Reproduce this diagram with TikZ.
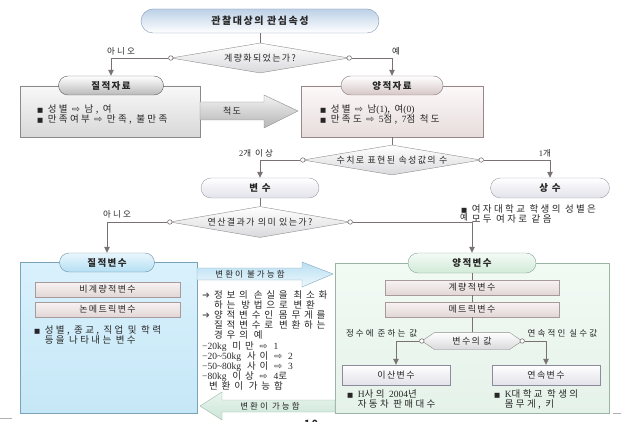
\documentclass[tikz,border=0pt]{standalone}
\usepackage{fontspec}
\setmainfont{Noto Sans CJK KR}[LetterSpace=15]
\newfontfamily\krw{Noto Sans CJK KR}[LetterSpace=25]
\newfontfamily\krm{Noto Sans CJK KR}[LetterSpace=40]
\newfontfamily\symf{DejaVu Sans}
\newfontfamily\serf{Liberation Serif}
\usetikzlibrary{shapes.geometric,arrows.meta}
\definecolor{txtc}{HTML}{262626}
\definecolor{lineg}{HTML}{7A7272}
\definecolor{topb}{HTML}{7F97B5}
\definecolor{topt}{HTML}{BCD0E6}
\definecolor{diag}{HTML}{8C8C8C}
\definecolor{diab}{HTML}{D9D9DC}
\definecolor{qdb}{HTML}{8A8A8A}
\definecolor{qdt}{HTML}{F8F8F8}
\definecolor{qdbt}{HTML}{D8D8D8}
\definecolor{qdpb}{HTML}{5E5E5E}
\definecolor{qdp}{HTML}{B9B9B9}
\definecolor{qnb}{HTML}{968888}
\definecolor{qnt}{HTML}{FCF9F9}
\definecolor{qnbt}{HTML}{E7DCDC}
\definecolor{qnpb}{HTML}{8A7878}
\definecolor{qnp}{HTML}{D6C6C6}
\definecolor{arrg}{HTML}{8C8C8C}
\definecolor{arrt}{HTML}{F3F3F3}
\definecolor{arrb}{HTML}{B4B4B4}
\definecolor{vb}{HTML}{9C9CAA}
\definecolor{vp}{HTML}{E2E2EA}
\definecolor{qvb}{HTML}{7AA3B8}
\definecolor{qvt}{HTML}{D9F1FC}
\definecolor{qvbt}{HTML}{C6E7F7}
\definecolor{qvpb}{HTML}{6C90A3}
\definecolor{qvpt}{HTML}{EAF7FD}
\definecolor{qvp}{HTML}{B4DFF3}
\definecolor{pkb}{HTML}{A89A9A}
\definecolor{pkt}{HTML}{F9F3F3}
\definecolor{pkbt}{HTML}{E2D6D6}
\definecolor{gnb}{HTML}{9BB5A4}
\definecolor{gnt}{HTML}{F2FAF4}
\definecolor{gnbt}{HTML}{E5F2E9}
\definecolor{gnpb}{HTML}{87A592}
\definecolor{gnpt}{HTML}{F4FBF6}
\definecolor{gnp}{HTML}{D1EAD8}
\definecolor{dsb}{HTML}{8B8B9C}
\definecolor{dsp}{HTML}{E2E2EA}
\definecolor{bab}{HTML}{7FA8BF}
\definecolor{bat}{HTML}{B9DFF2}
\definecolor{babt}{HTML}{EEF8FC}
\definecolor{gab}{HTML}{9BB9A8}
\definecolor{gat}{HTML}{EAF5EF}
\definecolor{gabt}{HTML}{CBE5D6}
\definecolor{pgline}{HTML}{B0B0B0}
\newcommand\sqb{{\symf\fontsize{6.5}{8}\selectfont ■}\ }
\newcommand\ind{\phantom{\sqb}}
\newcommand\wto{{\symf ⇨}}
\newcommand\mto{{\symf\color{txtc!75}➜}\hspace{4pt}}

\begin{document}
\begin{tikzpicture}[x=1pt, y=-1pt, every node/.style={text=txtc},
  ln/.style={draw=lineg, line width=0.8pt},
  arr/.style={ln, -{Triangle[length=6pt, width=5.5pt]}},
  lbl/.style={font=\krw\fontsize{8.5}{10}\selectfont, inner sep=0.5pt},
  txt/.style={font=\krw\fontsize{9.5}{10}\selectfont, align=left, inner sep=0pt, anchor=west},
  pill/.style={draw, rounded corners=9.5pt, minimum height=19, inner sep=0pt, font=\bfseries\fontsize{9.5}{11}\selectfont},
  plate/.style={draw, minimum height=15, inner sep=0pt, font=\fontsize{9}{11}\selectfont},
  dia/.style={diamond, aspect=6, draw=diag, top color=white, bottom color=diab, minimum height=30, inner sep=0pt, font=\fontsize{9}{11}\selectfont},
  knob/.style={circle, draw=lineg, fill=white, minimum size=4.5, inner sep=0pt, line width=0.6pt}]
	\useasboundingbox (0,0) rectangle (621,422);
	\node[pill, minimum width=238, minimum height=24, rounded corners=12, draw=topb, top color=topt, bottom color=white, font=\bfseries\fontsize{10}{12}\selectfont] (attr) at (260,21) {관찰대상의 관심속성};
	\node[dia, minimum width=178] (isq) at (260,58) {계량화되었는가?};
	\node[knob] (isqL) at (isq.west) {};
	\node[knob] (isqR) at (isq.east) {};
	\node[draw=qdb, top color=qdt, bottom color=qdbt, minimum width=180, minimum height=51, inner sep=0pt] (qdbox) at (110,111.5) {};
	\node[pill, minimum width=105, draw=qdpb, top color=white, bottom color=qdp] (qdpill) at (111,85.5) {질적자료};
	\node[txt] (qdtxt) at (37,114) {\sqb 성별 \wto{} 남, 여\\\sqb 만족여부 \wto{} 만족, 불만족};
	\node[draw=qnb, top color=qnt, bottom color=qnbt, minimum width=182, minimum height=51, inner sep=0pt] (qnbox) at (392,111.5) {};
	\node[pill, minimum width=102, draw=qnpb, top color=white, bottom color=qnp] (qnpill) at (392,85.5) {양적자료};
	\node[txt] (qntxt) at (320,114) {\sqb 성별 \wto{} 남{\serf(1)}, 여{\serf(0)}\\\sqb 만족도 \wto{} {\serf 5}점, {\serf 7}점 척도};
	\draw[ln] (attr) -- (isq);
	\draw[arr] (isqL) -| (qdpill);
	\draw[arr] (isqR) -| (qnpill);
	\node[lbl] (no1) at (121,51) {아니오};
	\node[lbl] (yes1) at (396,51) {예};
	\draw[draw=arrg, top color=arrt, bottom color=arrb] (200,102) -- (264,102) -- (264,95) -- (298,111) -- (264,128) -- (264,120) -- (200,120) -- cycle;
	\node[font=\fontsize{9}{11}\selectfont] (scale) at (232,111) {척도};
	\node[dia, minimum width=178] (cnt) at (392,160) {수치로 표현된 속성값의 수};
	\node[knob] (cntL) at (cnt.west) {};
	\node[knob] (cntR) at (cnt.east) {};
	\draw[ln] (qnbox) -- (cnt);
	\node[pill, minimum width=118, minimum height=20, rounded corners=10, draw=vb, top color=white, bottom color=vp] (var) at (260,188) {변 수};
	\node[pill, minimum width=119, minimum height=20, rounded corners=10, draw=vb, top color=white, bottom color=vp] (const) at (550,188) {상 수};
	\draw[arr] (cntL) -| (var);
	\draw[arr] (cntR) -| (const);
	\node[lbl] (many) at (256,153) {{\serf 2}개 이상};
	\node[lbl] (one) at (545,153) {{\serf 1}개};
	\node[txt] (ctxt) at (461,214) {\sqb 여자대학교 학생의 성별은\\\ind 모두 여자로 같음};
	\node[dia, minimum width=180, minimum height=31] (ops) at (260,222) {연산결과가 의미 있는가?};
	\node[knob] (opsL) at (ops.west) {};
	\node[knob] (opsR) at (ops.east) {};
	\draw[ln] (var) -- (ops);
	\node[draw=qvb, top color=qvt, bottom color=qvbt, minimum width=177, minimum height=151, inner sep=0pt] (qvbox) at (108.5,337.5) {};
	\node[pill, minimum width=95, draw=qvpb, top color=qvpt, bottom color=qvp] (qvpill) at (107,262.5) {질적변수};
	\node[plate, minimum width=145, draw=pkb, top color=pkt, bottom color=pkbt] (nonq) at (107.5,289.5) {비계량적변수};
	\node[plate, minimum width=145, draw=pkb, top color=pkt, bottom color=pkbt] (nonm) at (107.5,309.5) {논메트릭변수};
	\node[txt] (qvtxt) at (34,335) {\sqb 성별, 종교, 직업 및 학력\\\ind 등을 나타내는 변수};
	\node[draw=gnb, top color=gnt, bottom color=gnbt, minimum width=274, minimum height=150, inner sep=0pt] (qnvbox) at (472,338) {};
	\node[pill, minimum width=128, minimum height=20, rounded corners=10, draw=gnpb, top color=gnpt, bottom color=gnp] (qnvpill) at (472,263) {양적변수};
	\draw[arr] (opsL) -| (qvpill);
	\draw[arr] (opsR) -| (qnvpill);
	\node[lbl] (no2) at (117,214) {아니오};
	\node[lbl] (yes2) at (464,217) {예};
	\node[plate, minimum width=174, draw=pkb, top color=pkt, bottom color=pkbt] (met1) at (472,287.5) {계량적변수};
	\node[plate, minimum width=174, draw=pkb, top color=pkt, bottom color=pkbt] (met2) at (472,309.5) {메트릭변수};
	\node[minimum width=100, minimum height=17, inner sep=0pt] (val) at (472,341) {};
	\draw[draw=diag, top color=white, bottom color=diab] (val.west) -- ([xshift=13pt]val.north west) -- ([xshift=-13pt]val.north east) -- (val.east) -- ([xshift=-13pt]val.south east) -- ([xshift=13pt]val.south west) -- cycle;
	\node[font=\fontsize{9}{11}\selectfont] (valtxt) at (val) {변수의 값};
	\node[knob] (valL) at (val.west) {};
	\node[knob] (valR) at (val.east) {};
	\draw[ln] (qnvpill) -- (met1);
	\draw[ln] (met1) -- (met2);
	\draw[ln] (met2) -- (val);
	\node[plate, minimum width=108, minimum height=20, draw=dsb, top color=white, bottom color=dsp] (disc) at (396,375) {이산변수};
	\node[plate, minimum width=108, minimum height=20, draw=dsb, top color=white, bottom color=dsp] (cont) at (546,375) {연속변수};
	\draw[arr] (valL) -| (disc);
	\draw[arr] (valR) -| (cont);
	\node[lbl, anchor=east] (intlbl) at (418,333) {정수에 준하는 값};
	\node[lbl, anchor=west] (reallbl) at (527,333) {연속적인 실수값};
	\node[txt] (disctxt) at (347,399) {\sqb {\serf H}사의 {\serf 2004}년\\\ind 자동차 판매대수};
	\node[txt] (conttxt) at (494,399) {\sqb {\serf K}대학교 학생의\\\ind 몸무게, 키};
	\draw[draw=bab, top color=bat, bottom color=babt] (197,268) -- (302,268) -- (302,262) -- (333,274) -- (302,287) -- (302,280) -- (197,280) -- cycle;
	\node[lbl] (noconv) at (250,274) {변환이 불가능함};
	\draw[draw=gab, top color=gat, bottom color=gabt] (335,400) -- (222,400) -- (222,392) -- (200,406) -- (222,420) -- (222,412) -- (335,412) -- cycle;
	\node[lbl] (conv) at (270,406) {변환이 가능함};
	\node[txt, anchor=north west, font=\krm\fontsize{9.5}{10.2}\selectfont] (mid) at (202,290) {\mto 정보의 손실을 최소화\\\hspace*{12pt}하는 방법으로 변환\\\mto 양적변수인 몸무게를\\\hspace*{12pt}질적변수로 변환하는\\\hspace*{12pt}경우의 예\\{\serf −20kg} 미만 \wto{} {\serf 1}\\{\serf −20\textasciitilde50kg} 사이 \wto{} {\serf 2}\\{\serf −50\textasciitilde80kg} 사이 \wto{} {\serf 3}\\{\serf −80kg} 이상 \wto{} {\serf 4}로\\\hspace*{7pt}변환이 가능함};
	\draw[draw=pgline, line width=0.8pt] (0,418) -- (12,418);
	\draw[draw=pgline, line width=0.8pt] (613,413) -- (621,413);
	\node[font=\bfseries\fontsize{10}{12}\selectfont, anchor=north] (pgno) at (311,417) {10};
\end{tikzpicture}
\end{document}
